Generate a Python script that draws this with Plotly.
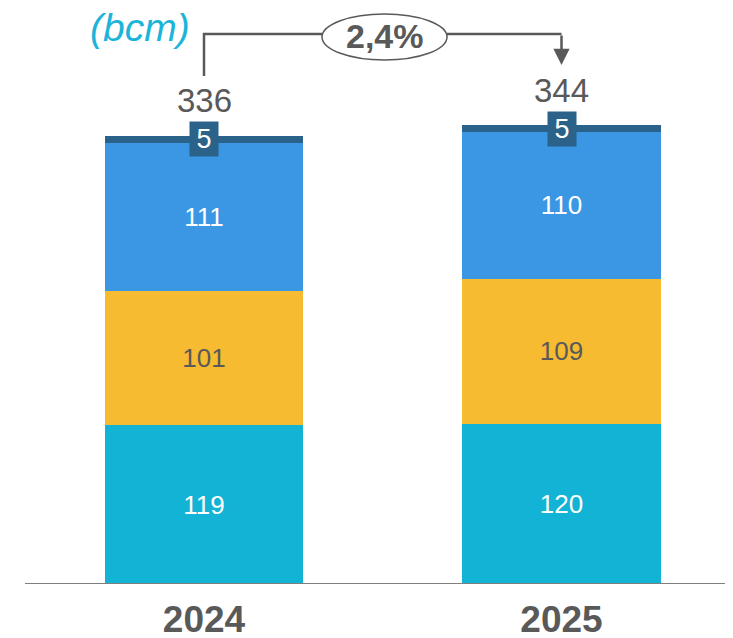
import plotly.graph_objects as go

years = ["2024", "2025"]
seg_a = [119, 120]   # teal
seg_b = [101, 109]   # yellow
seg_c = [111, 110]   # blue
seg_d = [5, 5]       # dark blue
totals = [336, 344]
growth_label = "2,4%"
unit_label = "(bcm)"

colors = ["#12B3D4", "#F6BB30", "#3B97E3", "#2B6289"]
text_colors = ["white", "#595959", "white", "white"]
FONT = "Liberation Sans, Arial, sans-serif"
GRAY = "#595959"

# page body has an 8px margin; lay out in reference pixels minus that offset
OFF = 8
W, H = 733 - OFF, 638 - OFF
xpos = list(range(len(years)))
px_per_unit = 357.5
x0_px = 204 - OFF
xr = [-x0_px / px_per_unit, (W - x0_px) / px_per_unit]
base_px = 584 - OFF
y_scale = 1.3335
yr = [0, base_px / y_scale]

def ydata(ref_px):
    return (base_px - (ref_px - OFF)) / y_scale

def xdata(ref_px):
    return ((ref_px - OFF) - x0_px) / px_per_unit

fig = go.Figure()
series = [seg_a, seg_b, seg_c, seg_d]
for i, vals in enumerate(series):
    show_text = i < 3
    fig.add_trace(go.Bar(
        x=xpos, y=vals, width=0.554,
        marker=dict(color=colors[i], line=dict(width=0)),
        text=[str(v) for v in vals] if show_text else None,
        textposition="inside" if show_text else "none",
        insidetextanchor="middle",
        textangle=0,
        textfont=dict(family=FONT, size=26, color=text_colors[i]),
        hoverinfo="skip",
    ))

annotations = []
shapes = []
for j in xpos:
    cum = seg_a[j] + seg_b[j] + seg_c[j]
    annotations.append(dict(
        x=j, y=cum + seg_d[j] / 2, xref="x", yref="y",
        text=str(seg_d[j]), showarrow=False,
        font=dict(family=FONT, size=27, color="white"),
        bgcolor=colors[3], width=28, height=34, borderpad=0,
        xanchor="center", yanchor="middle",
    ))
    annotations.append(dict(
        x=j, y=totals[j], xref="x", yref="y",
        text=str(totals[j]), showarrow=False,
        font=dict(family=FONT, size=33, color=GRAY),
        xanchor="center", yanchor="middle", yshift=35,
    ))

annotations.append(dict(
    x=(88 - OFF) / W, y=1 - (29 - OFF) / H, xref="paper", yref="paper",
    text="<i>" + unit_label + "</i>", showarrow=False,
    font=dict(family=FONT, size=39, color="#1DB4DA"),
    xanchor="left", yanchor="middle",
))

y_line = ydata(34)
ell_l, ell_r = xdata(322), xdata(447)
shapes.append(dict(type="path", xref="x", yref="y",
                   path=f"M 0 {ydata(76)} L 0 {y_line} L {ell_l} {y_line}",
                   line=dict(color=GRAY, width=2.5)))
shapes.append(dict(type="path", xref="x", yref="y",
                   path=f"M {ell_r} {y_line} L 1 {y_line}",
                   line=dict(color=GRAY, width=2.5)))
shapes.append(dict(type="circle", xref="x", yref="y",
                   x0=ell_l, x1=ell_r, y0=ydata(60), y1=ydata(14),
                   line=dict(color=GRAY, width=1.5), fillcolor="white"))
annotations.append(dict(
    x=(ell_l + ell_r) / 2, y=ydata(36), xref="x", yref="y",
    text="<b>" + growth_label + "</b>", showarrow=False,
    font=dict(family=FONT, size=34, color=GRAY),
    xanchor="center", yanchor="middle",
))
annotations.append(dict(
    x=1, y=ydata(65), xref="x", yref="y",
    ax=1, ay=y_line, axref="x", ayref="y",
    text="", showarrow=True, arrowhead=2, arrowsize=1.3,
    arrowwidth=2.5, arrowcolor=GRAY, standoff=0,
))

shapes.append(dict(type="line", xref="paper", yref="y",
                   x0=(25 - OFF) / W, x1=1, y0=0, y1=0,
                   line=dict(color="#7F7F7F", width=2)))

fig.update_layout(
    template="none",
    width=W, height=H,
    margin=dict(l=0, r=0, t=0, b=H - base_px, pad=0),
    barmode="stack",
    showlegend=False,
    paper_bgcolor="white", plot_bgcolor="white",
    xaxis=dict(range=xr, tickvals=xpos, ticktext=["<b>" + y + "</b>" for y in years],
               tickfont=dict(family=FONT, size=37, color=GRAY),
               ticks="outside", ticklen=3, tickcolor="rgba(0,0,0,0)",
               showgrid=False, zeroline=False, showline=False, automargin=False,
               fixedrange=True),
    yaxis=dict(range=yr, visible=False, showgrid=False, zeroline=False,
               automargin=False, fixedrange=True),
    annotations=annotations,
    shapes=shapes,
)

fig.write_html("out.html")
